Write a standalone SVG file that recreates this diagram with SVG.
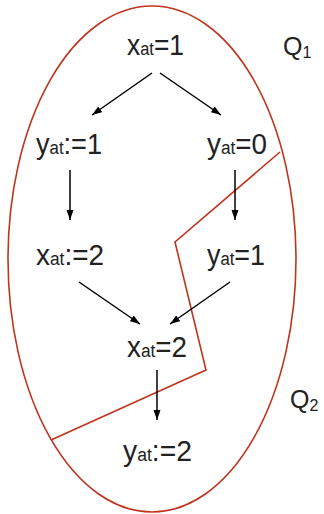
<svg xmlns="http://www.w3.org/2000/svg" width="324" height="514" viewBox="0 0 324 514">
<defs>
<marker id="ah" markerWidth="11" markerHeight="8" refX="10" refY="3.5" orient="auto" markerUnits="userSpaceOnUse">
<path d="M0,0 L10,3.5 L0,7 z" fill="#000"/>
</marker>
<style>
.lbl{font-family:"Liberation Sans",Arial,sans-serif;font-size:29px;fill:#222;}
.sub{font-size:18px;}
.q{font-family:"Liberation Sans",Arial,sans-serif;font-size:25px;fill:#222;}
.qs{font-size:16px;}
.edge{stroke:#000;stroke-width:1.5;fill:none;marker-end:url(#ah);}
.red{stroke:#c0341d;stroke-width:1.6;fill:none;}
</style>
</defs>
<rect width="324" height="514" fill="#fff"/>
<g id="regions">
<ellipse class="red" cx="152" cy="259" rx="144" ry="253"/>
<polyline class="red" points="280,152 175,242 206,370 51,440"/>
</g>
<g id="n1"><text class="lbl" x="127" y="55" textLength="57" lengthAdjust="spacingAndGlyphs">x<tspan class="sub">at</tspan>=1</text></g>
<g id="n2"><text class="lbl" x="36" y="154" textLength="66" lengthAdjust="spacingAndGlyphs">y<tspan class="sub">at</tspan>:=1</text></g>
<g id="n3"><text class="lbl" x="207" y="154" textLength="60" lengthAdjust="spacingAndGlyphs">y<tspan class="sub">at</tspan>=0</text></g>
<g id="n4"><text class="lbl" x="36" y="265" textLength="68" lengthAdjust="spacingAndGlyphs">x<tspan class="sub">at</tspan>:=2</text></g>
<g id="n5"><text class="lbl" x="207" y="265" textLength="58" lengthAdjust="spacingAndGlyphs">y<tspan class="sub">at</tspan>=1</text></g>
<g id="n6"><text class="lbl" x="127" y="357" textLength="60" lengthAdjust="spacingAndGlyphs">x<tspan class="sub">at</tspan>=2</text></g>
<g id="n7"><text class="lbl" x="123" y="461" textLength="69" lengthAdjust="spacingAndGlyphs">y<tspan class="sub">at</tspan>:=2</text></g>
<g id="q1"><text class="q" x="283" y="55">Q<tspan class="qs" dy="3">1</tspan></text></g>
<g id="q2"><text class="q" x="290" y="408">Q<tspan class="qs" dy="3">2</tspan></text></g>
<g id="connectors">
<line class="edge" x1="152" y1="73" x2="92" y2="115"/>
<line class="edge" x1="160" y1="73" x2="221" y2="115"/>
<line class="edge" x1="70" y1="170" x2="70" y2="220"/>
<line class="edge" x1="235" y1="170" x2="235" y2="220"/>
<line class="edge" x1="79" y1="282" x2="140" y2="324"/>
<line class="edge" x1="230" y1="282" x2="170" y2="324"/>
<line class="edge" x1="157" y1="370" x2="157" y2="420"/>
</g>
</svg>
